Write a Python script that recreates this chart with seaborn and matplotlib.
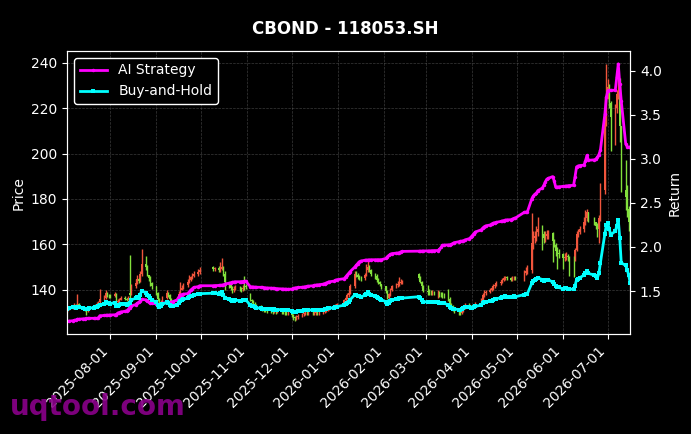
import numpy as np
import pandas as pd
import matplotlib
matplotlib.use("Agg")
import matplotlib.pyplot as plt
import matplotlib.dates as mdates
import seaborn as sns

start_day = "2025-07-03"
end_day = "2026-07-16"
holidays = ["2025-10-01", "2025-10-02", "2025-10-03", "2025-10-06", "2025-10-07", "2025-10-08",
            "2026-01-01", "2026-01-02", "2026-02-16", "2026-02-17", "2026-02-18", "2026-02-19",
            "2026-02-20", "2026-02-23", "2026-04-06", "2026-05-01", "2026-05-04", "2026-05-05",
            "2026-06-19"]

opens = [
    130.8, 131.3, 132.0, 132.6, 133.3, 132.4, 133.6, 132.8, 132.0, 131.2, 130.6, 131.3, 131.8, 132.5, 133.0, 133.6, 134.3, 135.8, 136.5, 138.4, 137.6,
    137.4, 137.0, 138.2, 134.3, 134.8, 135.6, 136.4, 136.0, 135.6, 138.6, 137.8, 141.4, 143.0, 144.6, 143.8, 146.9, 151.5, 149.8, 146.5, 145.2, 143.0,
    141.4, 138.4, 135.8, 133.3, 134.3, 136.4, 138.4, 137.4, 135.8, 134.8, 134.1, 135.8, 137.9, 140.0, 140.9, 141.9, 143.4, 144.2, 145.4, 146.2, 147.0, 147.7,
    150.0, 149.0, 149.5, 148.5, 149.3, 150.0, 147.0, 143.4, 141.9, 140.9, 140.0, 140.4, 140.9, 140.6, 140.2, 142.4, 141.4,
    138.0, 135.3, 134.8, 133.8, 133.1, 132.3, 131.8, 131.3, 131.1, 130.9, 130.7, 130.5, 130.3, 130.5, 130.3, 130.3, 130.1, 130.0, 129.9, 129.8,
    129.8, 128.8, 127.8, 127.3, 127.8, 128.5, 129.1, 129.5, 129.8, 129.6, 129.8, 129.7, 129.8, 129.9, 129.8, 129.8, 130.3, 130.7, 131.1, 131.5, 131.9, 132.3, 132.9,
    133.5, 135.3, 136.4, 137.4, 138.4, 141.4, 147.0, 146.5, 145.4, 145.2, 145.0, 146.5, 148.5, 150.0, 148.5, 147.0, 146.0, 144.4, 143.4, 142.4,
    141.4, 139.4, 136.4, 137.9, 139.9, 141.4, 141.9, 142.4, 143.1, 143.4, 147.0, 145.0, 143.4, 141.4,
    139.4, 138.9, 138.6, 138.4, 138.6, 138.4, 138.4, 138.2, 138.0, 137.7, 137.4, 135.8, 133.3, 132.3, 131.3, 130.8, 130.3, 129.8, 130.8, 132.3, 133.3, 132.8,
    132.0, 132.3, 132.8, 133.8, 135.3, 137.4, 138.4, 138.9, 139.9, 140.6, 141.4, 142.2, 142.9, 143.4, 144.2, 145.0, 145.4, 145.0, 144.4, 145.0, 145.2,
    145.0, 147.5, 148.3, 148.5, 160.6, 162.6, 163.6, 165.6, 166.7, 164.6, 162.6, 163.6, 164.6, 165.0, 161.6, 159.6, 157.0, 156.0,
    155.5, 154.0, 154.5, 155.0, 154.3, 153.7, 153.5, 157.6, 164.6, 165.6, 166.7, 169.7, 171.7, 174.2, 171.7, 169.7, 168.2, 166.7, 171.7, 183.8, 217.2,
    227.3, 229.3, 222.2, 216.1, 220.2, 226.2, 233.3, 212.1, 183.8, 180.8, 175.7, 169.7,
]
closes = [
    131.3, 132.0, 132.6, 133.3, 132.4, 133.6, 132.8, 132.0, 131.2, 130.6, 131.3, 131.8, 132.5, 133.0, 133.6, 134.3, 135.8, 136.5, 138.4, 137.6, 137.4,
    137.0, 138.2, 134.3, 134.8, 135.6, 136.4, 136.0, 135.6, 136.2, 137.8, 141.4, 143.0, 144.6, 143.8, 146.9, 151.5, 149.8, 146.5, 145.2, 143.0, 141.4,
    138.4, 135.8, 133.3, 134.3, 136.4, 138.4, 137.4, 135.8, 134.8, 134.1, 135.8, 137.9, 140.0, 140.9, 141.9, 143.4, 144.2, 145.4, 146.2, 147.0, 147.7, 148.5,
    149.0, 149.5, 148.5, 149.3, 150.0, 147.0, 143.4, 141.9, 140.9, 140.0, 140.4, 140.9, 140.6, 140.2, 140.9, 141.4, 141.0,
    135.3, 134.8, 133.8, 133.1, 132.3, 131.8, 131.3, 131.1, 130.9, 130.7, 130.5, 130.3, 130.5, 130.3, 130.3, 130.1, 130.0, 129.9, 129.8, 129.8,
    128.8, 127.8, 127.3, 127.8, 128.5, 129.1, 129.5, 129.8, 129.6, 129.8, 129.7, 129.8, 129.9, 129.8, 129.8, 130.3, 130.7, 131.1, 131.5, 131.9, 132.3, 132.9, 133.5,
    135.3, 136.4, 137.4, 138.4, 141.4, 147.0, 146.5, 145.4, 145.2, 145.0, 146.5, 148.5, 150.0, 148.5, 147.0, 146.0, 144.4, 143.4, 142.4, 141.4,
    139.4, 136.4, 137.9, 139.9, 141.4, 141.9, 142.4, 143.1, 143.4, 143.4, 145.0, 143.4, 141.4, 139.4,
    138.9, 138.6, 138.4, 138.6, 138.4, 138.4, 138.2, 138.0, 137.7, 137.4, 135.8, 133.3, 132.3, 131.3, 130.8, 130.3, 129.8, 130.8, 132.3, 133.3, 132.8, 132.3,
    132.3, 132.8, 133.8, 135.3, 137.4, 138.4, 138.9, 139.9, 140.6, 141.4, 142.2, 142.9, 143.4, 144.2, 145.0, 145.4, 145.0, 144.4, 145.0, 145.2, 145.0,
    147.5, 148.3, 148.5, 160.6, 162.6, 163.6, 165.6, 166.7, 164.6, 162.6, 163.6, 164.6, 165.0, 161.6, 159.6, 157.0, 156.0, 155.5,
    154.0, 154.5, 155.0, 154.3, 153.7, 153.5, 157.6, 164.6, 165.6, 166.7, 169.7, 171.7, 174.2, 171.7, 169.7, 168.2, 166.7, 171.7, 183.8, 217.2, 227.3,
    229.3, 222.2, 216.1, 220.2, 226.2, 233.3, 212.1, 183.8, 180.8, 175.7, 169.7, 160.6,
]
highs = [
    132.4, 132.9, 133.2, 134.0, 133.6, 138.2, 134.0, 132.8, 132.4, 131.6, 131.9, 132.5, 133.2, 133.6, 134.4, 135.0, 140.4, 137.4, 139.7, 138.9, 138.2,
    138.0, 139.0, 138.6, 135.8, 136.2, 137.0, 137.0, 136.4, 137.0, 155.4, 142.6, 144.5, 146.3, 145.2, 148.0, 157.7, 155.0, 151.0, 146.5, 146.0, 143.5,
    141.8, 139.0, 136.5, 135.2, 137.0, 139.7, 139.0, 138.0, 136.4, 135.5, 136.8, 139.5, 143.5, 142.0, 142.8, 144.6, 146.3, 146.0, 147.2, 148.0, 149.0, 150.0,
    150.2, 150.0, 150.4, 152.0, 154.0, 150.5, 148.0, 143.2, 142.0, 141.6, 141.4, 142.0, 141.6, 141.2, 142.0, 146.0, 142.6,
    138.6, 136.0, 135.4, 134.6, 133.8, 133.0, 132.5, 132.0, 131.8, 131.6, 131.4, 131.2, 131.3, 131.2, 131.0, 131.0, 130.8, 130.7, 130.6, 130.6,
    130.2, 129.2, 128.4, 128.6, 129.4, 129.8, 130.2, 130.6, 130.4, 130.4, 130.4, 130.5, 130.6, 130.5, 130.4, 130.9, 131.4, 131.8, 132.2, 132.6, 133.0, 133.6, 134.2,
    136.0, 137.2, 138.4, 139.6, 142.6, 148.0, 148.2, 147.2, 146.4, 146.2, 147.5, 151.4, 152.4, 150.8, 149.2, 147.2, 146.8, 145.0, 143.6, 142.6,
    141.8, 140.0, 138.6, 140.6, 142.2, 143.0, 144.0, 145.6, 144.6, 144.2, 147.5, 146.0, 144.0, 142.0,
    142.0, 140.2, 139.6, 139.8, 139.4, 140.0, 139.4, 139.0, 138.8, 138.4, 140.4, 136.6, 134.2, 133.0, 132.0, 131.4, 131.0, 131.6, 133.0, 134.2, 134.0, 133.4,
    133.2, 133.6, 134.6, 136.4, 138.4, 139.7, 139.8, 140.8, 141.4, 142.4, 143.0, 143.8, 144.4, 145.0, 145.8, 146.2, 146.0, 145.4, 145.8, 146.0, 145.8,
    148.6, 150.0, 150.7, 173.6, 166.0, 165.8, 168.0, 172.0, 168.6, 166.0, 166.0, 166.4, 166.2, 165.6, 162.4, 160.4, 159.0, 158.0,
    156.0, 156.2, 156.4, 155.8, 155.0, 155.0, 158.4, 166.0, 166.8, 168.0, 172.0, 175.0, 175.6, 174.4, 172.0, 170.0, 169.4, 173.0, 187.0, 225.0, 239.6,
    233.0, 230.5, 223.0, 222.0, 228.0, 234.0, 233.3, 212.1, 197.0, 186.0, 177.0, 171.0,
]
lows = [
    130.2, 130.9, 131.6, 132.2, 131.8, 132.0, 132.2, 131.4, 130.5, 129.0, 130.0, 131.0, 131.6, 132.2, 132.7, 133.2, 134.0, 135.2, 136.0, 136.9, 136.5,
    136.2, 136.6, 133.6, 133.8, 134.4, 135.2, 135.2, 134.8, 135.2, 136.0, 137.4, 140.8, 142.6, 143.0, 143.2, 146.0, 148.5, 145.8, 144.0, 141.8, 140.2,
    137.8, 135.0, 132.6, 132.8, 133.8, 135.8, 136.8, 135.0, 134.0, 133.2, 133.6, 135.2, 137.2, 139.6, 140.2, 141.2, 142.8, 143.6, 144.6, 145.4, 146.2, 146.8,
    148.2, 148.2, 147.6, 147.8, 148.5, 146.0, 139.7, 140.6, 139.8, 138.6, 139.0, 139.6, 139.2, 138.8, 139.5, 140.0, 140.2,
    134.8, 134.0, 133.0, 132.3, 131.6, 131.0, 130.5, 130.2, 130.0, 129.8, 129.5, 129.4, 129.6, 129.4, 129.5, 129.2, 129.1, 129.0, 128.8, 128.8,
    128.0, 126.6, 126.0, 126.4, 127.2, 127.8, 128.4, 128.7, 128.6, 128.9, 128.8, 128.9, 129.0, 128.9, 128.9, 129.3, 129.8, 130.2, 130.6, 131.0, 131.4, 131.9, 132.4,
    133.0, 134.8, 135.8, 136.8, 138.0, 140.6, 145.6, 144.6, 144.2, 144.0, 144.4, 145.8, 147.8, 147.8, 146.0, 144.8, 143.4, 142.4, 141.4, 140.4,
    138.6, 135.8, 135.9, 137.2, 139.2, 140.8, 141.2, 141.8, 142.4, 142.6, 144.2, 142.8, 140.8, 138.8,
    137.6, 137.8, 137.4, 137.6, 137.4, 136.4, 136.8, 136.6, 136.2, 136.2, 135.0, 132.6, 131.4, 130.4, 129.8, 129.0, 128.7, 129.4, 130.2, 131.6, 131.8, 131.4,
    131.4, 131.8, 132.4, 133.2, 134.8, 136.6, 137.8, 138.4, 139.4, 140.0, 140.8, 141.6, 142.2, 142.8, 143.6, 144.2, 144.2, 143.6, 143.8, 144.4, 144.2,
    144.0, 146.6, 146.8, 147.5, 158.0, 160.4, 161.6, 163.6, 157.5, 160.6, 160.8, 162.2, 162.4, 152.0, 158.6, 155.0, 149.0, 153.8,
    149.0, 152.6, 153.2, 152.8, 146.0, 145.7, 152.4, 157.0, 163.4, 164.4, 165.2, 168.6, 170.4, 169.8, 168.4, 166.6, 163.0, 160.6, 170.2, 182.0, 212.0,
    224.0, 220.0, 201.0, 204.0, 218.0, 224.0, 205.0, 183.0, 175.0, 172.0, 166.0, 157.5,
]
ai_strategy = [
    1.156, 1.158, 1.163, 1.168, 1.172, 1.180, 1.180, 1.184, 1.186, 1.188, 1.190, 1.190, 1.190, 1.190, 1.190, 1.192, 1.220, 1.222, 1.225, 1.226, 1.226,
    1.228, 1.230, 1.230, 1.250, 1.255, 1.262, 1.270, 1.275, 1.290, 1.310, 1.330, 1.345, 1.360, 1.370, 1.385, 1.405, 1.400, 1.390, 1.375, 1.365, 1.360,
    1.355, 1.350, 1.345, 1.350, 1.360, 1.370, 1.370, 1.370, 1.372, 1.380, 1.400, 1.430, 1.454, 1.460, 1.465, 1.470, 1.490, 1.510, 1.525, 1.540, 1.550, 1.560,
    1.560, 1.562, 1.563, 1.565, 1.567, 1.570, 1.580, 1.590, 1.595, 1.600, 1.602, 1.605, 1.605, 1.607, 1.608, 1.610, 1.612,
    1.550, 1.548, 1.546, 1.545, 1.543, 1.542, 1.540, 1.538, 1.536, 1.535, 1.533, 1.531, 1.530, 1.528, 1.527, 1.525, 1.523, 1.522, 1.521, 1.520,
    1.522, 1.530, 1.535, 1.537, 1.540, 1.543, 1.546, 1.549, 1.552, 1.555, 1.560, 1.565, 1.567, 1.570, 1.572, 1.578, 1.585, 1.592, 1.598, 1.605, 1.612, 1.620, 1.628,
    1.640, 1.660, 1.680, 1.700, 1.720, 1.770, 1.790, 1.810, 1.830, 1.840, 1.850, 1.852, 1.853, 1.854, 1.855, 1.855, 1.855, 1.856, 1.856, 1.856,
    1.870, 1.890, 1.905, 1.915, 1.925, 1.930, 1.932, 1.935, 1.945, 1.950, 1.952, 1.953, 1.954, 1.955,
    1.955, 1.956, 1.957, 1.958, 1.959, 1.960, 1.975, 1.995, 2.020, 2.022, 2.024, 2.026, 2.030, 2.040, 2.050, 2.060, 2.065, 2.068, 2.070, 2.080, 2.095, 2.110,
    2.130, 2.150, 2.170, 2.195, 2.215, 2.230, 2.240, 2.250, 2.262, 2.270, 2.276, 2.280, 2.290, 2.295, 2.300, 2.305, 2.308, 2.310, 2.318, 2.325, 2.330,
    2.395, 2.398, 2.400, 2.550, 2.580, 2.600, 2.610, 2.640, 2.670, 2.700, 2.740, 2.770, 2.780, 2.800, 2.750, 2.680, 2.682, 2.684,
    2.688, 2.690, 2.692, 2.695, 2.698, 2.700, 2.800, 2.910, 2.920, 2.925, 2.930, 2.980, 3.040, 2.985, 2.990, 3.000, 3.020, 3.050, 3.100, 3.510, 3.700,
    3.775, 3.780, 3.780, 3.780, 3.930, 4.080, 3.850, 3.660, 3.170, 3.140, 3.135, 3.135,
]
buy_hold = [
    1.300, 1.307, 1.313, 1.320, 1.311, 1.323, 1.315, 1.307, 1.299, 1.293, 1.300, 1.305, 1.312, 1.317, 1.323, 1.330, 1.345, 1.351, 1.370, 1.362, 1.360,
    1.357, 1.368, 1.330, 1.335, 1.342, 1.350, 1.347, 1.343, 1.349, 1.365, 1.400, 1.416, 1.432, 1.424, 1.455, 1.500, 1.483, 1.450, 1.438, 1.416, 1.400,
    1.370, 1.345, 1.320, 1.330, 1.350, 1.370, 1.360, 1.345, 1.335, 1.328, 1.345, 1.365, 1.386, 1.395, 1.405, 1.420, 1.428, 1.440, 1.448, 1.455, 1.462, 1.470,
    1.475, 1.480, 1.470, 1.478, 1.485, 1.455, 1.420, 1.405, 1.395, 1.386, 1.390, 1.395, 1.392, 1.388, 1.395, 1.400, 1.400,
    1.340, 1.335, 1.325, 1.318, 1.310, 1.305, 1.300, 1.298, 1.296, 1.294, 1.292, 1.290, 1.292, 1.290, 1.290, 1.288, 1.287, 1.286, 1.285, 1.285,
    1.275, 1.265, 1.260, 1.265, 1.272, 1.278, 1.282, 1.285, 1.283, 1.285, 1.284, 1.285, 1.286, 1.285, 1.285, 1.290, 1.294, 1.298, 1.302, 1.306, 1.310, 1.316, 1.322,
    1.340, 1.350, 1.360, 1.370, 1.400, 1.455, 1.450, 1.440, 1.438, 1.435, 1.450, 1.470, 1.485, 1.470, 1.455, 1.445, 1.430, 1.420, 1.410, 1.400,
    1.380, 1.350, 1.365, 1.385, 1.400, 1.405, 1.410, 1.417, 1.420, 1.420, 1.435, 1.420, 1.400, 1.380,
    1.375, 1.372, 1.370, 1.372, 1.370, 1.370, 1.368, 1.366, 1.363, 1.360, 1.345, 1.320, 1.310, 1.300, 1.295, 1.290, 1.285, 1.295, 1.310, 1.320, 1.315, 1.310,
    1.310, 1.315, 1.325, 1.340, 1.360, 1.370, 1.375, 1.385, 1.392, 1.400, 1.408, 1.415, 1.420, 1.428, 1.435, 1.440, 1.436, 1.430, 1.435, 1.438, 1.435,
    1.460, 1.468, 1.470, 1.590, 1.610, 1.620, 1.640, 1.650, 1.630, 1.610, 1.620, 1.630, 1.630, 1.600, 1.580, 1.555, 1.545, 1.540,
    1.525, 1.530, 1.535, 1.528, 1.522, 1.520, 1.560, 1.630, 1.640, 1.650, 1.680, 1.700, 1.725, 1.700, 1.680, 1.665, 1.650, 1.700, 1.820, 2.150, 2.250,
    2.270, 2.200, 2.140, 2.180, 2.240, 2.310, 2.100, 1.820, 1.790, 1.740, 1.680, 1.590,
]

up_color = "#f0553c"
down_color = "#82e03c"

trade_days = pd.bdate_range(start_day, end_day)
trade_days = trade_days[~trade_days.isin(pd.to_datetime(holidays))]

df = pd.DataFrame({"Date": trade_days, "Open": opens, "High": highs, "Low": lows,
                   "Close": closes, "AI": ai_strategy, "BH": buy_hold})

plt.style.use("dark_background")
fig, ax = plt.subplots(figsize=(6.91, 4.34), dpi=100)
fig.subplots_adjust(left=0.097, right=0.912, bottom=0.23, top=0.8825)

# candles: red up / green down
colors = np.where(df["Close"] >= df["Open"], up_color, down_color)
ax.vlines(df["Date"], df["Low"], df["High"], colors=colors, linewidth=1.0)
body = (df["Close"] - df["Open"]).abs()
ax.bar(df["Date"], body, bottom=df[["Open", "Close"]].min(axis=1), width=0.9, color=colors)

ax2 = ax.twinx()
sns.lineplot(data=df, x="Date", y="AI", ax=ax2, color="#ff00ff", linewidth=2,
             marker="o", markersize=2.5, markeredgewidth=0, label="AI Strategy")
sns.lineplot(data=df, x="Date", y="BH", ax=ax2, color="#00ffff", linewidth=2,
             marker="s", markersize=2.5, markeredgewidth=0, label="Buy-and-Hold")

ax.set_xlim(df["Date"].iloc[0], df["Date"].iloc[-1])
ax.xaxis.set_major_locator(mdates.MonthLocator())
ax.xaxis.set_major_formatter(mdates.DateFormatter("%Y-%m-%d"))
plt.setp(ax.get_xticklabels(), rotation=45, ha="right")

ax.grid(True, linestyle="--", linewidth=0.5, color="gray", alpha=0.45)
ax2.grid(False)

ax.set_xlabel("")
ax2.set_xlabel("")
ax.set_ylabel("Price")
ax2.set_ylabel("Return")

ax2.legend(loc="upper left", facecolor="black", edgecolor="white", framealpha=1, fontsize=10)

fig.suptitle("CBOND - 118053.SH", fontsize=12, fontweight="bold", color="white", y=0.955)
fig.text(0.014, 0.044, "uqtool.com", fontsize=20, fontweight="bold", color="#8b008b", alpha=0.9)

plt.savefig("out.png", dpi=100, facecolor="black")
